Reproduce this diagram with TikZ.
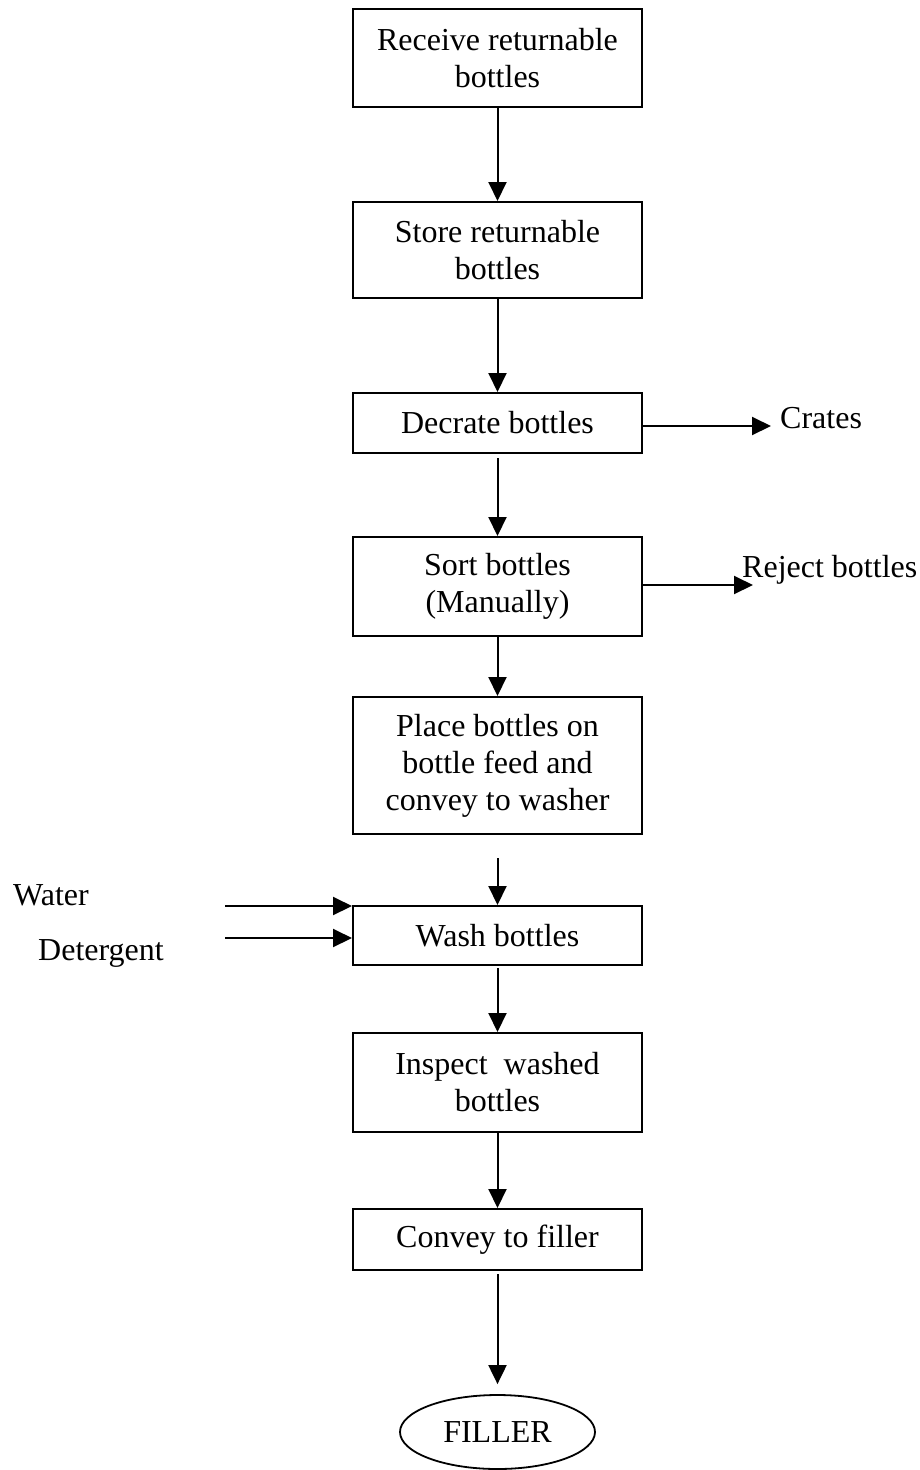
\documentclass[tikz,border=0pt]{standalone}
\usepackage{fontspec}
\setmainfont{Liberation Serif}
\usetikzlibrary{arrows.meta,shapes.geometric}

\begin{document}
\begin{tikzpicture}[x=1pt,y=-1pt,
  every node/.style={font=\fontsize{32}{37}\selectfont},
  stepbox/.style={draw,line width=2pt,minimum width=289pt,align=center,inner sep=0pt},
  endbox/.style={draw,ellipse,line width=1.8pt,minimum width=195pt,minimum height=74pt,inner sep=0pt},
  flow/.style={line width=2pt,-{Triangle[length=19pt,width=18pt]}},
  sidelabel/.style={anchor=base west,inner sep=0pt}
]
\useasboundingbox (0,0) rectangle (920,1470);

% process steps
\node[stepbox,minimum height=98pt] (a) at (497.5,58)   {Receive returnable\\bottles};
\node[stepbox,minimum height=96pt] (b) at (497.5,250)  {Store returnable\\bottles};
\node[stepbox,minimum height=60pt] (c) at (497.5,423)  {Decrate bottles};
\node[stepbox,minimum height=99pt] (d) at (497.5,586.5) {Sort bottles\\(Manually)};
\node[stepbox,minimum height=137pt] (e) at (497.5,765.5) {Place bottles on\\bottle feed and\\convey to washer};
\node[stepbox,minimum height=59pt] (f) at (497.5,935.5) {Wash bottles};
\node[stepbox,minimum height=99pt] (g) at (497.5,1082.5) {Inspect~~washed\\bottles};
\node[stepbox,minimum height=61pt] (h) at (497.5,1239.5) {Convey to filler};
\node[endbox] (filler) at (497.5,1432) {FILLER};

% side streams
\node[sidelabel] (crates) at (780,428) {Crates};
\node[sidelabel] (reject) at (742,577) {Reject bottles};
\node[sidelabel] (water) at (13,905) {Water};
\node[sidelabel] (deterg) at (38,960) {Detergent};

\coordinate (cratesEnd) at (771,426);
\coordinate (rejectEnd) at (753,585);
\coordinate (waterStart) at (225,906);
\coordinate (detergStart) at (225,938);

% main flow
\draw[flow] (a.south) -- (b.north);
\draw[flow] (b.south) -- (c.north);
\draw[flow] ([yshift=-4pt]c.south) -- (d.north);
\draw[flow] (d.south) -- (e.north);
\draw[flow] ([yshift=-23pt]e.south) -- (f.north);
\draw[flow] ([yshift=-2pt]f.south) -- (g.north);
\draw[flow] (g.south) -- (h.north);
\draw[flow] ([yshift=-3pt]h.south) -- ([yshift=10pt]filler.north);

% outputs and inputs
\draw[flow] (c.east |- cratesEnd) -- (cratesEnd);
\draw[flow] (d.east |- rejectEnd) -- (rejectEnd);
\draw[flow] (waterStart) -- (waterStart -| f.west);
\draw[flow] (detergStart) -- (detergStart -| f.west);
\end{tikzpicture}
\end{document}
